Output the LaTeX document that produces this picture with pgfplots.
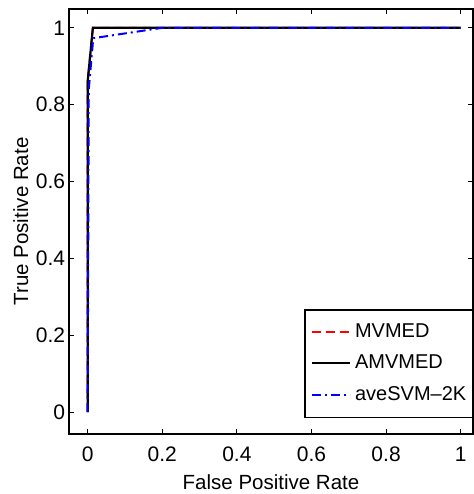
\documentclass[border=0pt]{standalone}
\usepackage{fontspec}
\setmainfont{Liberation Sans}
\usepackage{pgfplots}
\pgfplotsset{compat=1.18}
\begin{document}
\fontsize{20}{24}\selectfont
\begin{tikzpicture}
\begin{axis}[
  scale only axis, width=404pt, height=425pt,
  xmin=-0.05, xmax=1.033, ymin=-0.057, ymax=1.049,
  xtick={0,0.2,0.4,0.6,0.8,1}, ytick={0,0.2,0.4,0.6,0.8,1},
  tick align=inside, xtick pos=both, ytick pos=both,
  major tick length=5pt,
  axis line style={line width=1.5pt},
  every tick/.style={black, line width=0.8pt},
  xlabel={False Positive Rate}, ylabel={True Positive Rate},
  /pgf/number format/assume math mode=true,
  tick label style={font=\fontsize{21}{25}\selectfont},
  label style={font=\fontsize{20.5}{25}\selectfont},
  xticklabel style={yshift=-6pt},
  yticklabel style={xshift=3pt},
  xlabel style={yshift=1pt},
  ylabel style={yshift=-6pt},
  legend style={at={(1,0.0376)}, anchor=south east, font=\fontsize{20}{24}\selectfont, draw=black, line width=1.5pt, inner xsep=6pt, inner ysep=14pt, row sep=14.5pt, column sep=4pt, nodes={inner sep=0pt}},
  legend cell align=left,
  legend image code/.code={\draw[#1] plot coordinates {(0pt,0pt) (19pt,0pt) (38pt,0pt)};},
  legend image post style={line width=2pt},
]
\addplot[red, dash pattern=on 9pt off 5pt, line width=2pt] coordinates {(0,0) (0,0.86) (0.014,1) (1,1)};
\addlegendentry{MVMED}
\addplot[black, line width=2.2pt] coordinates {(0,0) (0,0.86) (0.014,1) (1,1)};
\addlegendentry{AMVMED}
\addplot[blue, dash pattern=on 9pt off 4pt on 2pt off 4pt, line width=2pt] coordinates {(0,0) (0.003,0.84) (0.015,0.973) (0.2,1) (1,1)};
\addlegendentry{aveSVM\textendash 2K}
\end{axis}
\pgfresetboundingbox
\path ([shift={(-69pt,-60pt)}]current axis.south west) rectangle ([shift={(0pt,9pt)}]current axis.north east);
\end{tikzpicture}
\end{document}
